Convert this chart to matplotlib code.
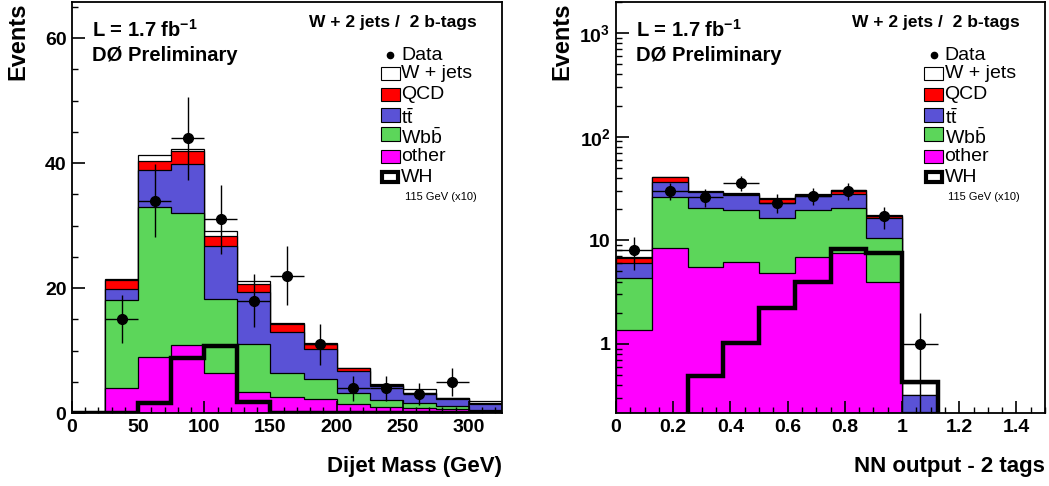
import numpy as np
import matplotlib
matplotlib.use("Agg")
import matplotlib.pyplot as plt
from matplotlib.patches import Rectangle
from matplotlib.ticker import MultipleLocator, FixedLocator, FuncFormatter, NullFormatter

# ---- Dijet mass, 25 GeV bins from 0 to 325 GeV ----
mass_edges = np.arange(0, 326, 25)
mass_other = [0, 4.0, 9.0, 10.9, 6.4, 3.4, 2.6, 2.3, 1.4, 0.9, 0.85, 0.6, 0.3]
mass_wbb = [0, 14.1, 24.0, 21.1, 11.9, 7.7, 3.75, 3.2, 1.75, 1.2, 0.7, 0.5, 0.25]
mass_tt = [0, 1.7, 5.9, 7.8, 8.5, 8.2, 6.55, 4.8, 3.5, 2.3, 1.6, 1.2, 0.95]
mass_qcd = [0, 1.5, 1.4, 2.2, 1.6, 1.3, 1.4, 0.8, 0.5, 0.1, 0.05, 0.05, 0.05]
mass_wjets = [0, 0.2, 1.0, 0.2, 0.7, 0.5, 0.1, 0.15, 0.1, 0.1, 0.6, 0.0, 0.35]
mass_wh = [0, 0, 1.6, 8.85, 10.7, 1.8, 0, 0, 0, 0, 0, 0, 0]
mass_data = [0, 15, 34, 44, 31, 18, 22, 11, 4, 4, 3, 5, 0]

# ---- NN output, 0.125 bins from 0 to 1.5 ----
nn_edges = np.linspace(0, 1.5, 13)
nn_other = [1.35, 8.5, 5.5, 6.2, 4.8, 6.9, 7.5, 4.0, 0.01, 0, 0, 0]
nn_wbb = [3.0, 17.4, 15.2, 13.6, 11.8, 12.9, 12.8, 6.6, 0.21, 0, 0, 0]
nn_tt = [1.73, 10.8, 8.5, 7.5, 6.1, 6.9, 8.0, 6.0, 0.1, 0, 0, 0]
nn_qcd = [0.66, 4.0, 0.3, 1.0, 2.6, 0.8, 2.0, 0.4, 0, 0, 0, 0]
nn_wjets = [0.1, 0.3, 0.4, 0.4, 0.3, 0.2, 0.6, 0.5, 0.1, 0, 0, 0]
nn_wh = [0, 0, 0.49, 1.02, 2.21, 4.0, 8.2, 7.5, 0.43, 0, 0, 0]
nn_data = [8, 30, 26, 36, 23, 27, 30, 17, 1, 0, 0, 0]

labels = ["W + jets", "QCD", r"$\mathrm{t\bar{t}}$", r"$\mathrm{Wb\bar{b}}$", "other"]
colors = ["white", "#ff0000", "#5a52d6", "#5cd65a", "#ff00ff"]

plt.rcParams["font.family"] = ["Liberation Sans", "DejaVu Sans"]
plt.rcParams["mathtext.fontset"] = "custom"
plt.rcParams["mathtext.rm"] = "Liberation Sans"
plt.rcParams["mathtext.bf"] = "Liberation Sans:bold"
plt.rcParams["mathtext.it"] = "Liberation Sans:italic"


def draw_panel(ax, edges, other, wbb, tt, qcd, wjets, wh, data, log=False, floor=1e-3):
    # stacked backgrounds, bottom to top: other, Wbb, tt, QCD, W+jets
    layers = [other, wbb, tt, qcd, wjets]
    cum = np.cumsum(np.array(layers, dtype=float), axis=0)
    for i in range(len(layers) - 1, -1, -1):
        top = cum[i]
        if log:
            top = np.clip(top, floor, None)
        ax.stairs(top, edges, fill=True, facecolor=colors[::-1][i], edgecolor="black",
                  linewidth=0.9, baseline=floor if log else 0)
    wh = np.array(wh, dtype=float)
    if log:
        wh = np.clip(wh, floor, None)
    ax.stairs(wh, edges, color="black", linewidth=3.2, baseline=None)

    data = np.array(data, dtype=float)
    centers = 0.5 * (edges[:-1] + edges[1:])
    half = 0.5 * np.diff(edges)
    m = data > 0
    ax.errorbar(centers[m], data[m], xerr=half[m], yerr=np.sqrt(data[m]), fmt="o",
                color="black", ms=7, elinewidth=1, capsize=0, zorder=5)

    for s in ax.spines.values():
        s.set_linewidth(1.3)
    ax.tick_params(which="both", direction="in", top=False, right=False, pad=4)
    ax.tick_params(which="major", length=9, width=1.2)
    ax.tick_params(which="minor", length=4.5, width=1)
    for lab in ax.get_xticklabels() + ax.get_yticklabels():
        lab.set_fontweight("bold")
        lab.set_fontsize(14)

    # texts
    ax.text(0.046, 0.932, r"L = 1.7 fb$^{\mathbf{-1}}$", transform=ax.transAxes,
            fontsize=14.5, fontweight="bold", va="center", ha="left")
    ax.text(0.046, 0.871, "DØ Preliminary", transform=ax.transAxes,
            fontsize=14.5, fontweight="bold", va="center", ha="left")
    ax.text(0.942, 0.949, "W + 2 jets /  2 b-tags", transform=ax.transAxes,
            fontsize=12.5, fontweight="bold", va="center", ha="right")
    ax.text(-0.125, 1.0, "Events", transform=ax.transAxes, rotation=90,
            fontsize=17, fontweight="bold", va="top", ha="center")

    # legend drawn by hand
    bx, bw, bh, tx = 0.718, 0.045, 0.032, 0.766
    fs = 14
    ax.plot([bx + bw / 2], [0.871], "o", color="black", ms=4.5, transform=ax.transAxes, clip_on=False)
    ax.text(tx, 0.871, "Data", transform=ax.transAxes, fontsize=fs, va="center", ha="left")
    rows = [0.827, 0.775, 0.725, 0.679, 0.625]
    for y, lab, col in zip(rows, labels, colors):
        ax.add_patch(Rectangle((bx, y - bh / 2), bw, bh, transform=ax.transAxes,
                               facecolor=col, edgecolor="black", linewidth=0.8, clip_on=False, zorder=6))
        ax.text(tx, y - (0.008 if "bar" in lab else 0), lab, transform=ax.transAxes,
                fontsize=fs, va="center", ha="left", zorder=6)
    ax.add_patch(Rectangle((bx + 0.004, 0.574 - bh / 2 + 0.003), bw - 0.008, bh - 0.006,
                           transform=ax.transAxes, facecolor="white", edgecolor="black",
                           linewidth=3, clip_on=False, zorder=6))
    ax.text(tx, 0.574, "WH", transform=ax.transAxes, fontsize=fs, va="center", ha="left")
    ax.text(tx + 0.008, 0.526, "115 GeV (x10)", transform=ax.transAxes, fontsize=8,
            va="center", ha="left")


fig = plt.figure(figsize=(10.49, 4.86), dpi=100)
ax1 = fig.add_axes([72 / 1049, 73 / 486, 430 / 1049, 411 / 486])
ax2 = fig.add_axes([616 / 1049, 73 / 486, 429 / 1049, 411 / 486])

# left: dijet mass
ax1.set_xlim(0, 325)
ax1.set_ylim(0, 65.8)
ax1.xaxis.set_major_locator(MultipleLocator(50))
ax1.xaxis.set_minor_locator(MultipleLocator(10))
ax1.yaxis.set_major_locator(MultipleLocator(20))
ax1.yaxis.set_minor_locator(MultipleLocator(5))
draw_panel(ax1, mass_edges, mass_other, mass_wbb, mass_tt, mass_qcd, mass_wjets, mass_wh, mass_data)
ax1.set_xlabel("Dijet Mass (GeV)", fontsize=16, fontweight="bold", loc="right", labelpad=15)

# right: NN output, log scale
ax2.set_yscale("log")
ax2.set_xlim(0, 1.5)
ax2.set_ylim(0.215, 2000)
ax2.xaxis.set_major_locator(MultipleLocator(0.2))
ax2.xaxis.set_minor_locator(MultipleLocator(0.05))
ax2.xaxis.set_major_formatter(FuncFormatter(lambda v, p: "0" if abs(v) < 1e-9 else ("1" if abs(v - 1) < 1e-9 else f"{v:.1f}")))
ax2.yaxis.set_major_locator(FixedLocator([1, 10, 100, 1000]))
ax2.yaxis.set_minor_locator(FixedLocator([m * 10.0 ** e for e in range(-1, 4) for m in range(2, 10)]))
ax2.yaxis.set_minor_formatter(NullFormatter())
ax2.yaxis.set_major_formatter(FuncFormatter(
    lambda v, p: "1" if v < 5 else ("10" if v < 50 else r"$\mathbf{10^{%d}}$" % round(np.log10(v)))))
draw_panel(ax2, nn_edges, nn_other, nn_wbb, nn_tt, nn_qcd, nn_wjets, nn_wh, nn_data, log=True, floor=1e-3)
ax2.set_xlabel("NN output - 2 tags", fontsize=16, fontweight="bold", loc="right", labelpad=15)

fig.savefig("out.png", dpi=100)
